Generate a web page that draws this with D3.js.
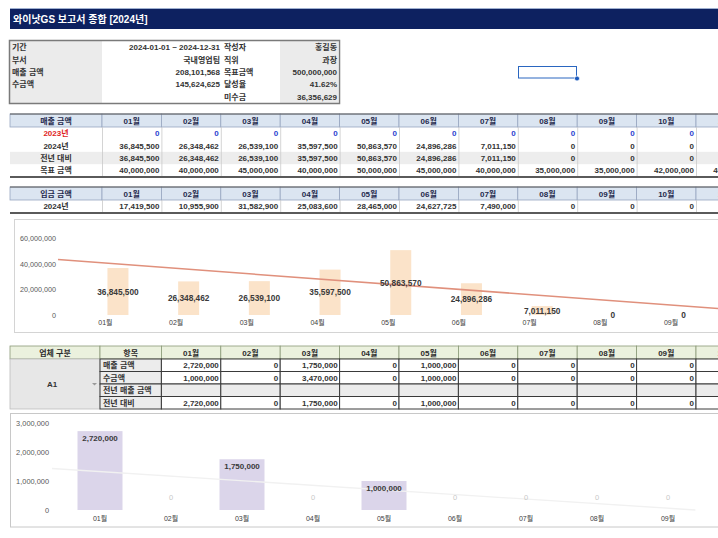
<!DOCTYPE html>
<html><head><meta charset="utf-8">
<script src="https://cdn.jsdelivr.net/npm/d3@7"></script>
<style>
body{margin:0;background:#fff;overflow:hidden}
svg{display:block}
text{font-family:"Liberation Sans","Noto Sans CJK KR",Arial,sans-serif}
</style>
</head><body><svg id="c" width="718" height="538"></svg>
<script>
// ---------------- DATA ----------------
const title = "와이낫GS 보고서 종합 [2024년]";
const months = ["01월","02월","03월","04월","05월","06월","07월","08월","09월","10월","11월","12월"];

const infoLabels  = ["기간","부서","매출 금액","수금액",""];
const infoValues  = ["2024-01-01 ~ 2024-12-31","국내영업팀","208,101,568","145,624,625",""];
const infoLabels2 = ["작성자","직위","목표금액","달성율","미수금"];
const infoValues2 = ["홍길동","과장","500,000,000","41.62%","36,356,629"];

const salesRowLabels = ["2023년","2024년","전년 대비","목표 금액"];
const sales2023 = [0,0,0,0,0,0,0,0,0,0,0,0];
const sales2024 = [36845500,26348462,26539100,35597500,50863570,24896286,7011150,0,0,0,0,0];
const salesYoY  = [36845500,26348462,26539100,35597500,50863570,24896286,7011150,0,0,0,0,0];
const salesTarget = [40000000,40000000,45000000,40000000,50000000,45000000,40000000,35000000,35000000,42000000,40000000,48000000];

const depositRowLabels = ["2024년"];
const deposits2024 = [17419500,10955900,31582900,25083600,28465000,24627725,7490000,0,0,0,0,0];

const vendorName = "A1";
const vendorItems = ["매출 금액","수금액","전년 매출 금액","전년 대비"];
const a1Sales     = [2720000,0,1750000,0,1000000,0,0,0,0,0,0,0];
const a1Collected = [1000000,0,3470000,0,1000000,0,0,0,0,0,0,0];
const a1PrevSales = [null,null,null,null,null,null,null,null,null,null,null,null];
const a1YoY       = [2720000,0,1750000,0,1000000,0,0,0,0,0,0,0];

const chart1Ticks = [0,20000000,40000000,60000000];
const chart2Ticks = [0,1000000,2000000,3000000];

// ---------------- DRAW ----------------
const W = 718;
const svg = d3.select("#c");
const fmt = d3.format(",");
const FS = 8;
const visible = (x) => x < W; // skip texts that start entirely beyond the window

// title bar
svg.append("rect").attr("x",10).attr("y",8).attr("width",708).attr("height",21).attr("fill","#0d2160");
svg.append("line").attr("x1",10).attr("x2",718).attr("y1",8.5).attr("y2",8.5).attr("stroke","#9fb0d0");
svg.append("text").attr("x",13).attr("y",22.5).attr("fill","#fff").attr("font-size",10).attr("font-weight","bold").text(title);

// info table
{
  const g = svg.append("g");
  const top = 41, rh = 12.4;
  g.append("rect").attr("x",10).attr("y",top).attr("width",92).attr("height",rh*5).attr("fill","#ebebeb");
  g.append("rect").attr("x",280).attr("y",top).attr("width",58).attr("height",rh*5).attr("fill","#ebebeb");
  g.append("rect").attr("x",9.5).attr("y",top-0.5).attr("width",330).attr("height",rh*5+1).attr("fill","none").attr("stroke","#7a7a7a").attr("stroke-width",1.5);
  infoLabels.forEach((t,i)=>{
    const y = top + rh*i + rh/2 + 3;
    g.append("text").attr("x",12).attr("y",y).attr("font-size",FS).attr("font-weight","bold").attr("fill","#333").text(t);
    g.append("text").attr("x",220).attr("y",y).attr("text-anchor","end").attr("font-size",FS).attr("font-weight","bold").attr("fill","#333").text(infoValues[i]);
    g.append("text").attr("x",224).attr("y",y).attr("font-size",FS).attr("font-weight","bold").attr("fill","#333").text(infoLabels2[i]);
    g.append("text").attr("x",337).attr("y",y).attr("text-anchor","end").attr("font-size",FS).attr("font-weight","bold").attr("fill","#333").text(infoValues2[i]);
  });
}

// selection box
svg.append("rect").attr("x",518.5).attr("y",66.5).attr("width",58).attr("height",11.5).attr("fill","none").attr("stroke","#2a66c0").attr("stroke-width",1);
svg.append("rect").attr("x",574.5).attr("y",76).attr("width",5).attr("height",5).attr("rx",2.5).attr("fill","#1d5bbf").attr("stroke","#fff").attr("stroke-width",0.8);

// column scale for tables
const colX = d3.scaleLinear().domain([0,12]).range([102, 102 + 59.4*12]);

function blueTable(top, headLabel, rowLabels, rows, opts){
  const g = svg.append("g");
  const hh = 13, rh = 12.4;
  g.append("rect").attr("x",10).attr("y",top).attr("width",92).attr("height",hh).attr("fill","#dbe5f1").attr("stroke","#97a6c0").attr("stroke-width",0.8);
  g.append("text").attr("x",56).attr("y",top+hh/2+3).attr("text-anchor","middle").attr("font-size",FS).attr("font-weight","bold").attr("fill","#1f2a4d").text(headLabel);
  months.forEach((m,i)=>{
    g.append("rect").attr("x",colX(i)).attr("y",top).attr("width",colX(i+1)-colX(i)).attr("height",hh).attr("fill","#dbe5f1").attr("stroke","#97a6c0").attr("stroke-width",0.8);
    const cx = (colX(i)+colX(i+1))/2;
    if (visible(cx-8))
      g.append("text").attr("x",cx).attr("y",top+hh/2+3).attr("text-anchor","middle").attr("font-size",FS).attr("font-weight","bold").attr("fill","#1f2a4d").text(m);
  });
  g.append("line").attr("x1",10).attr("x2",718).attr("y1",top).attr("y2",top).attr("stroke","#555").attr("stroke-width",1);
  const bodyTop = top + hh;
  rows.forEach((vals,r)=>{
    const y0 = bodyTop + rh*r;
    if (opts.shade && opts.shade[r]) g.append("rect").attr("x",10).attr("y",y0).attr("width",708).attr("height",rh).attr("fill","#ededed");
    g.append("text").attr("x",56).attr("y",y0+rh/2+3).attr("text-anchor","middle").attr("font-size",FS).attr("font-weight","bold")
      .attr("fill", opts.labelColor ? opts.labelColor[r] : "#333").text(rowLabels[r]);
    vals.forEach((v,i)=>{
      const s = v==null ? "" : fmt(v);
      const xr = colX(i+1)-2;
      if (!visible(xr - s.length*4.3)) return;
      g.append("text").attr("x",xr).attr("y",y0+rh/2+3).attr("text-anchor","end").attr("font-size",FS).attr("font-weight","bold")
        .attr("fill", opts.valueColor ? opts.valueColor[r] : "#333").text(s);
    });
  });
  const bottom = bodyTop + rh*rows.length;
  d3.range(0,13).forEach(i=>{
    g.append("line").attr("x1",colX(i)+0.5).attr("x2",colX(i)+0.5).attr("y1",bodyTop).attr("y2",bottom).attr("stroke","#c9c9c9").attr("stroke-width",0.8);
  });
  g.append("line").attr("x1",10).attr("x2",718).attr("y1",bottom+0.5).attr("y2",bottom+0.5).attr("stroke","#5a5a5a").attr("stroke-width",2);
}

blueTable(114, "매출 금액", salesRowLabels, [sales2023, sales2024, salesYoY, salesTarget], {
  shade:[false,false,true,false],
  labelColor:["#e02424","#333","#333","#333"],
  valueColor:["#2b3fd0","#333","#333","#333"]
});
blueTable(187, "입금 금액", depositRowLabels, [deposits2024], {});

// ---- trend helper ----
function linreg(vals){
  const xs = d3.range(vals.length);
  const mx = d3.mean(xs), my = d3.mean(vals);
  const b = d3.sum(xs,(x,i)=>(x-mx)*(vals[i]-my)) / d3.sum(xs,x=>(x-mx)*(x-mx));
  return {a: my - b*mx, b};
}

// ---------------- CHART 1 ----------------
{
  const g = svg.append("g");
  g.append("rect").attr("x",14.5).attr("y",219.5).attr("width",800).attr("height",113).attr("fill","#fff").attr("stroke","#d4d4d4");
  const x = d3.scalePoint().domain(months).range([82.6, 82.6 + 70.7*12]).padding(0.5);
  const y = d3.scaleLinear().domain([0,60000000]).range([315, 238.5]);
  chart1Ticks.forEach(t=>{
    g.append("text").attr("x",56).attr("y",y(t)+2.5).attr("text-anchor","end").attr("font-size",7.2).attr("fill","#595959").text(fmt(t));
  });
  const bw = 21;
  g.selectAll("rect.bar").data(sales2024).join("rect").attr("class","bar")
    .attr("x",(d,i)=>x(months[i])-bw/2).attr("y",d=>y(d)).attr("width",bw).attr("height",d=>y(0)-y(d)).attr("fill","#fbe3c9");
  const {a,b} = linreg(sales2024);
  const x0 = x(months[0]), st = x.step();
  const iStart = (58 - x0)/st;
  const iEnd = Math.min(-a/b, (760 - x0)/st);
  g.append("line").attr("x1",x0+iStart*st).attr("y1",y(a+b*iStart)).attr("x2",x0+iEnd*st).attr("y2",y(a+b*iEnd))
    .attr("stroke","#e0907c").attr("stroke-width",1.5);
  months.forEach((m,i)=>{
    if (!visible(x(m)-20)) return;
    g.append("text").attr("x",x(m)-12.5).attr("y",324.5).attr("text-anchor","middle").attr("font-size",7).attr("fill","#404040").text(m);
  });
  sales2024.forEach((v,i)=>{
    if (!visible(x(months[i])-20)) return;
    g.append("text").attr("x",x(months[i])).attr("y",(y(v)+y(0))/2+3).attr("text-anchor","middle").attr("font-size",8.3).attr("font-weight","bold").attr("fill","#3a3a3a").text(fmt(v));
  });
}

// ---------------- GREEN TABLE ----------------
{
  const g = svg.append("g");
  const top = 346, hh = 13, rh = 12.5;
  const gx = i => colX(i+1);
  const stroke = "#3a3a3a";
  const heads = [{x0:10,x1:100,t:"업체 구분"},{x0:100,x1:gx(0),t:"항목"}].concat(months.map((m,i)=>({x0:gx(i),x1:gx(i+1),t:m})));
  heads.forEach(h=>{
    g.append("rect").attr("x",h.x0).attr("y",top).attr("width",h.x1-h.x0).attr("height",hh).attr("fill","#ebf1de").attr("stroke","#8a9a78").attr("stroke-width",0.8);
    const cx = (h.x0+h.x1)/2;
    if (visible(cx-8))
      g.append("text").attr("x",cx).attr("y",top+hh/2+3).attr("text-anchor","middle").attr("font-size",FS).attr("font-weight","bold").attr("fill","#2b2b2b").text(h.t);
  });
  const bodyTop = top + hh;
  g.append("rect").attr("x",10).attr("y",bodyTop).attr("width",90).attr("height",rh*4).attr("fill","#e7e7e7").attr("stroke","#bdbdbd").attr("stroke-width",0.8);
  g.append("text").attr("x",52).attr("y",bodyTop+rh*2+3).attr("text-anchor","middle").attr("font-size",FS).attr("font-weight","bold").attr("fill","#333").text(vendorName);
  g.append("path").attr("d",`M92,${bodyTop+rh*2-1} l5,0 l-2.5,2.5 z`).attr("fill","#9a9a9a");
  const rows = [a1Sales,a1Collected,a1PrevSales,a1YoY];
  rows.forEach((vals,r)=>{
    const y0 = bodyTop + rh*r;
    g.append("rect").attr("x",100).attr("y",y0).attr("width",gx(0)-100).attr("height",rh).attr("fill","#ececec").attr("stroke",stroke).attr("stroke-width",1);
    g.append("text").attr("x",103).attr("y",y0+rh/2+3).attr("font-size",FS).attr("font-weight","bold").attr("fill","#333").text(vendorItems[r]);
    vals.forEach((v,i)=>{
      g.append("rect").attr("x",gx(i)).attr("y",y0).attr("width",gx(i+1)-gx(i)).attr("height",rh)
        .attr("fill", r===2 ? "#ececec" : "#fff").attr("stroke",stroke).attr("stroke-width",1);
      const s = v==null ? "" : fmt(v);
      const xr = gx(i+1)-2;
      if (!s || !visible(xr - s.length*4.3)) return;
      g.append("text").attr("x",xr).attr("y",y0+rh/2+3).attr("text-anchor","end").attr("font-size",FS).attr("font-weight","bold").attr("fill","#333").text(s);
    });
  });
}

// ---------------- CHART 2 ----------------
{
  const g = svg.append("g");
  g.append("rect").attr("x",10.5).attr("y",413.5).attr("width",800).attr("height",113.5).attr("fill","#fff").attr("stroke","#c8c8c8");
  const x = d3.scalePoint().domain(months).range([64.5, 64.5 + 71*12]).padding(0.5);
  const y = d3.scaleLinear().domain([0,3000000]).range([510, 423]);
  chart2Ticks.forEach(t=>{
    g.append("text").attr("x",49).attr("y",y(t)+2.5).attr("text-anchor","end").attr("font-size",7.4).attr("fill","#595959").text(fmt(t));
  });
  const bw = 45;
  g.selectAll("rect.bar").data(a1Sales).join("rect").attr("class","bar")
    .attr("x",(d,i)=>x(months[i])-bw/2).attr("y",d=>y(d)).attr("width",bw).attr("height",d=>y(0)-y(d)).attr("fill","#dbd5ea");
  const {a,b} = linreg(a1Sales);
  const x0 = x(months[0]), st = x.step();
  const iStart = (52 - x0)/st;
  const iEnd = Math.min(-a/b, (760 - x0)/st);
  g.append("line").attr("x1",x0+iStart*st).attr("y1",y(a+b*iStart)).attr("x2",x0+iEnd*st).attr("y2",y(a+b*iEnd))
    .attr("stroke","#f1f1f1").attr("stroke-width",1.3);
  months.forEach((m,i)=>{
    if (!visible(x(m)-10)) return;
    g.append("text").attr("x",x(m)).attr("y",520.5).attr("text-anchor","middle").attr("font-size",7).attr("fill","#404040").text(m);
  });
  a1Sales.forEach((v,i)=>{
    if (!visible(x(months[i])-20)) return;
    const nz = v>0;
    g.append("text").attr("x",x(months[i])).attr("y", nz ? y(v)+10 : y(0)-10).attr("text-anchor","middle")
      .attr("font-size", nz?8:7.5).attr("font-weight", nz?"bold":"normal").attr("fill", nz?"#3a3a3a":"#c8c8c8").text(fmt(v));
  });
}
</script></body></html>
